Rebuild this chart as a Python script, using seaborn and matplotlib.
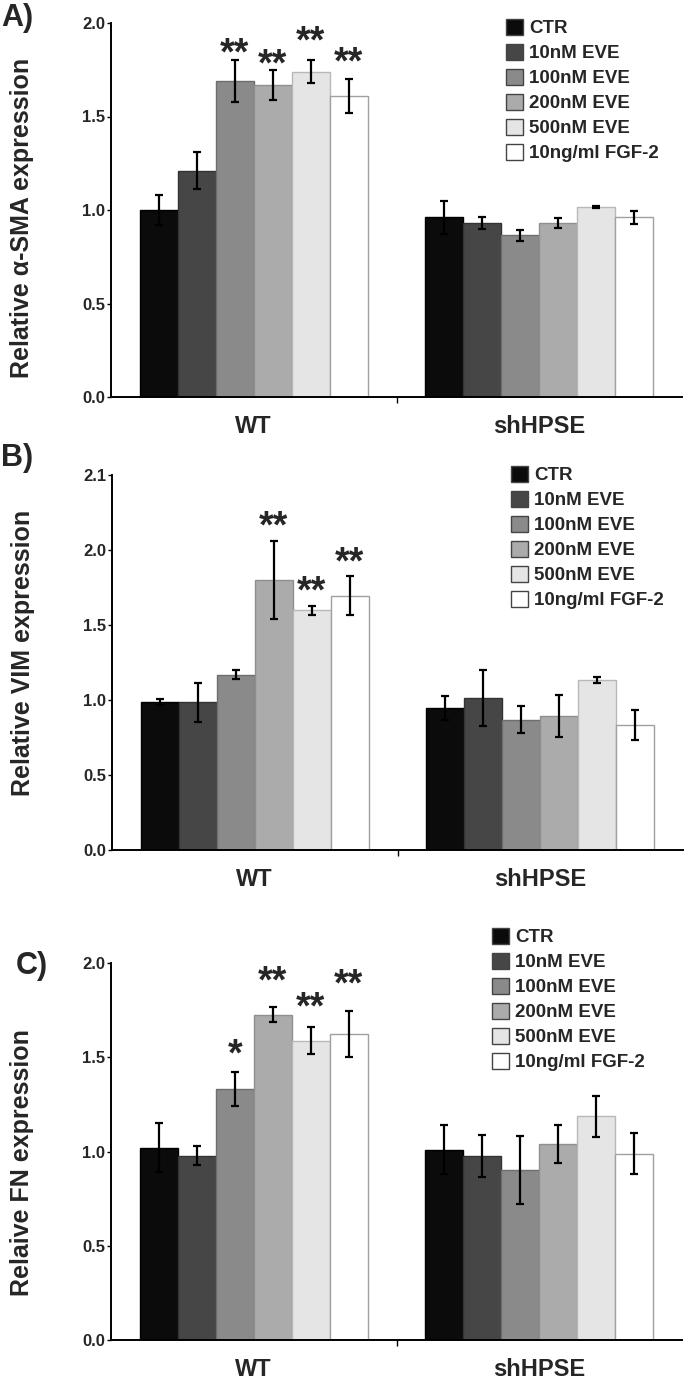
import numpy as np
import pandas as pd
import seaborn as sns
import matplotlib.pyplot as plt
from matplotlib.patches import Patch

groups = ['WT', 'shHPSE']
treatments = ['CTR', '10nM EVE', '100nM EVE', '200nM EVE', '500nM EVE', '10ng/ml FGF-2']
colors = ['#0b0b0b', '#464646', '#8a8a8a', '#ababab', '#e5e5e5', '#ffffff']
edges = ['#000000', '#333333', '#6e6e6e', '#8f8f8f', '#b8b8b8', '#a0a0a0']

# A) alpha-SMA
sma_wt = [1.00, 1.21, 1.69, 1.67, 1.74, 1.61]
sma_wt_err = [0.08, 0.10, 0.11, 0.08, 0.06, 0.09]
sma_sh = [0.96, 0.93, 0.865, 0.93, 1.015, 0.96]
sma_sh_err = [0.09, 0.03, 0.03, 0.025, 0.005, 0.035]
sma_stars = ['', '', '**', '**', '**', '**']
sma_star_y = [0, 0, 1.89, 1.83, 1.955, 1.84]

# B) VIM
vim_wt = [0.985, 0.985, 1.17, 1.80, 1.60, 1.695]
vim_wt_err = [0.02, 0.13, 0.03, 0.26, 0.03, 0.13]
vim_sh = [0.95, 1.015, 0.867, 0.893, 1.133, 0.833]
vim_sh_err = [0.08, 0.185, 0.09, 0.14, 0.02, 0.10]
vim_stars = ['', '', '', '**', '**', '**']
vim_star_y = [0, 0, 0, 2.22, 1.79, 1.98]

# C) FN
fn_wt = [1.02, 0.977, 1.333, 1.726, 1.588, 1.623]
fn_wt_err = [0.13, 0.05, 0.09, 0.04, 0.07, 0.12]
fn_sh = [1.01, 0.977, 0.90, 1.04, 1.186, 0.988]
fn_sh_err = [0.13, 0.11, 0.18, 0.10, 0.11, 0.11]
fn_stars = ['', '', '*', '**', '**', '**']
fn_star_y = [0, 0, 1.566, 1.956, 1.814, 1.94]

yticks_ac = [0, 0.5, 1.0, 1.5, 2.0]
ytick_labels_ac = ['0.0', '0.5', '1.0', '1.5', '2.0']
yticks_b = [0, 0.5, 1.0, 1.5, 2.0, 2.5]
ytick_labels_b = ['0.0', '0.5', '1.0', '1.5', '2.0', '2.1']

sns.set_style('white')
plt.rcParams['font.family'] = ['Liberation Sans', 'DejaVu Sans']
plt.rcParams['font.weight'] = 'bold'

W, H = 685, 1380
fig = plt.figure(figsize=(W / 100, H / 100), dpi=100)


def panel(rect, wt, wt_err, sh, sh_err, stars, star_y, yticks, ylabels, ylabel,
          label_y, letter, letter_xy, legend_xy):
    ax = fig.add_axes([rect[0] / W, 1 - rect[3] / H, (rect[2] - rect[0]) / W,
                       (rect[3] - rect[1]) / H])
    df = pd.DataFrame({
        'group': np.repeat(groups, len(treatments)),
        'treatment': treatments * 2,
        'value': wt + sh,
    })
    sns.barplot(data=df, x='group', y='value', hue='treatment', order=groups,
                hue_order=treatments, palette=colors, saturation=1, width=0.8,
                gap=0, errorbar=None, legend=False, ax=ax)
    # bars sorted left to right: WT treatments then shHPSE treatments
    bars = sorted([p for p in ax.patches if p is not None], key=lambda p: p.get_x())
    errs = wt_err + sh_err
    n = len(treatments)
    for k, bar in enumerate(bars):
        i = k % n
        bar.set_edgecolor(edges[i])
        bar.set_linewidth(1.0)
        xc = bar.get_x() + bar.get_width() / 2
        ax.errorbar(xc, bar.get_height(), yerr=errs[k], fmt='none',
                    ecolor='black', elinewidth=1.6, capsize=3, capthick=1.6,
                    zorder=5)
        if k < n and stars[i]:
            ax.annotate(stars[i], (xc, star_y[i]), xytext=(0, -15),
                        textcoords='offset points', ha='center',
                        va='baseline', fontsize=27, fontweight='bold',
                        annotation_clip=False)
    ax.set_xlim(-0.5, 1.5)
    ax.set_ylim(yticks[0], yticks[-1])
    ax.set_yticks(yticks)
    ax.set_yticklabels(ylabels, fontsize=12, fontweight='bold')
    ax.set_xticks([0, 1])
    ax.set_xticklabels(groups, fontsize=17, fontweight='bold')
    ax.set_xticks([0.5], minor=True)
    ax.tick_params(axis='x', which='major', length=0, pad=13)
    ax.tick_params(axis='x', which='minor', length=4, width=1, color='black',
                   direction='out', bottom=True)
    ax.tick_params(axis='y', length=3, width=1, color='black', direction='out',
                   left=True, pad=1)
    ax.set_xlabel('')
    ax.set_ylabel(ylabel, fontsize=18, fontweight='bold')
    ax.yaxis.set_label_coords(-0.135, label_y)
    for s in ['top', 'right']:
        ax.spines[s].set_visible(False)
    for s in ['left', 'bottom']:
        ax.spines[s].set_color('black')
        ax.spines[s].set_linewidth(1.4)

    handles = [Patch(facecolor=c, edgecolor='#444444', linewidth=1.0) for c in colors]
    fig.legend(handles, treatments, loc='upper left',
               bbox_to_anchor=(legend_xy[0] / W, 1 - legend_xy[1] / H),
               frameon=False, borderpad=0, borderaxespad=0,
               prop={'weight': 'bold', 'size': 13.5}, handlelength=0.9,
               handleheight=0.9, handletextpad=0.35, labelspacing=0.36)
    fig.text(letter_xy[0] / W, 1 - letter_xy[1] / H, letter, fontsize=22,
             fontweight='bold', va='top', ha='left')
    return ax


panel((111, 23, 682, 397), sma_wt, sma_wt_err, sma_sh, sma_sh_err, sma_stars,
      sma_star_y, yticks_ac, ytick_labels_ac, 'Relative \u03b1-SMA expression',
      0.48, 'A)', (1, 3), (506, 19))
panel((112, 475, 683, 850), vim_wt, vim_wt_err, vim_sh, vim_sh_err, vim_stars,
      vim_star_y, yticks_b, ytick_labels_b, 'Relative VIM expression',
      0.525, 'B)', (1, 443), (511, 466))
panel((111, 963, 682, 1340), fn_wt, fn_wt_err, fn_sh, fn_sh_err, fn_stars,
      fn_star_y, yticks_ac, ytick_labels_ac, 'Relaive FN expression',
      0.47, 'C)', (16, 951), (492, 928))

fig.savefig('out.png', dpi=100)
